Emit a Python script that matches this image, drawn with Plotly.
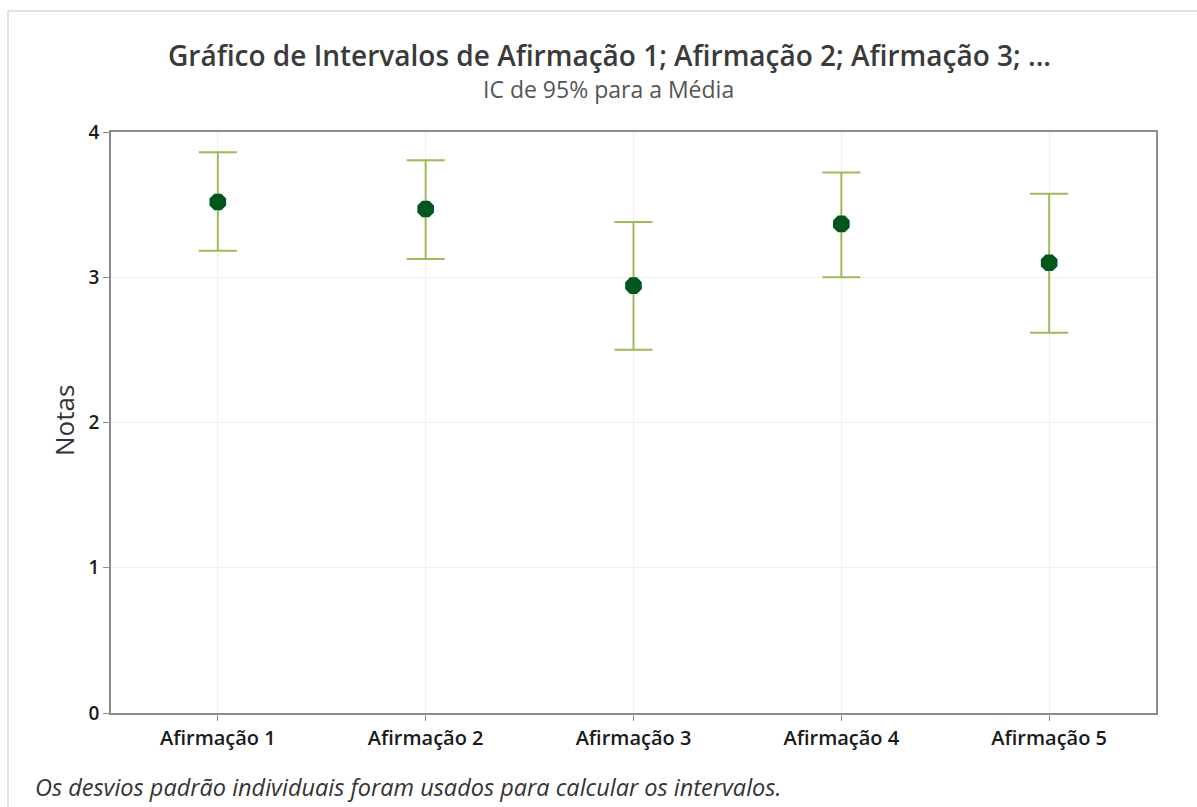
import plotly.graph_objects as go

# Interval plot data: mean and 95% CI bounds per statement
categorias = ["Afirmação 1", "Afirmação 2", "Afirmação 3", "Afirmação 4", "Afirmação 5"]
medias = [3.518, 3.470, 2.942, 3.367, 3.100]
limite_superior = [3.860, 3.805, 3.380, 3.722, 3.575]
limite_inferior = [3.183, 3.126, 2.501, 3.000, 2.618]
y_ticks = [0, 1, 2, 3, 4]

W, H = 1197, 807
L, R, T, B = 111, 41, 132, 94
pw, ph = W - L - R, H - T - B

def px_x(p):
    return (p - L) / pw

def px_y(p):
    return (H - B - p) / ph

err_plus = [u - m for u, m in zip(limite_superior, medias)]
err_minus = [m - l for m, l in zip(medias, limite_inferior)]

fig = go.Figure()
fig.add_trace(go.Scatter(
    x=categorias,
    y=medias,
    mode="markers",
    marker=dict(symbol="octagon", size=18, color="#00561c",
                line=dict(width=0)),
    error_y=dict(type="data", symmetric=False, array=err_plus,
                 arrayminus=err_minus, color="#9bbb59", thickness=2,
                 width=19),
    showlegend=False,
))

fig.update_layout(
    width=W, height=H,
    margin=dict(l=L, r=R, t=T, b=B),
    paper_bgcolor="white",
    plot_bgcolor="white",
    font=dict(family="Open Sans, sans-serif", color="#222"),
    xaxis=dict(
        range=[-0.514, 4.514],
        showgrid=True, gridcolor="#efefef", gridwidth=1,
        showline=True, linecolor="#8c8c8c", linewidth=1.5, mirror=True,
        ticks="outside", ticklen=6, tickcolor="#8c8c8c",
        tickfont=dict(size=20, color="#1a1a1a", weight=600),
        zeroline=False,
    ),
    yaxis=dict(
        range=[0, 4],
        tickvals=y_ticks,
        showgrid=True, gridcolor="#efefef", gridwidth=1,
        showline=True, linecolor="#8c8c8c", linewidth=1.5, mirror=True,
        ticks="outside", ticklen=6, tickcolor="#8c8c8c",
        tickfont=dict(size=19, color="#1a1a1a", weight=600),
        zeroline=False,
    ),
    shapes=[dict(
        type="rect", xref="paper", yref="paper",
        x0=px_x(8), x1=px_x(1205), y0=px_y(815), y1=px_y(11),
        line=dict(color="#d9d9d9", width=1.5), fillcolor="rgba(0,0,0,0)",
        layer="below",
    )],
    annotations=[
        dict(text="Gráfico de Intervalos de Afirmação 1; Afirmação 2; Afirmação 3; ...",
             xref="paper", yref="paper", x=px_x(609), y=px_y(55),
             xanchor="center", yanchor="middle", showarrow=False,
             font=dict(size=28, color="#3a3a3a", weight=600)),
        dict(text="IC de 95% para a Média",
             xref="paper", yref="paper", x=px_x(608), y=px_y(89),
             xanchor="center", yanchor="middle", showarrow=False,
             font=dict(size=23, color="#555")),
        dict(text="Notas", textangle=-90,
             xref="paper", yref="paper", x=px_x(64), y=px_y(421),
             xanchor="center", yanchor="middle", showarrow=False,
             font=dict(size=26, color="#333")),
        dict(text="<i>Os desvios padrão individuais foram usados para calcular os intervalos.</i>",
             xref="paper", yref="paper", x=px_x(33), y=px_y(787),
             xanchor="left", yanchor="middle", showarrow=False,
             font=dict(size=23.5, color="#333")),
    ],
)

fig.write_html("out.html")
